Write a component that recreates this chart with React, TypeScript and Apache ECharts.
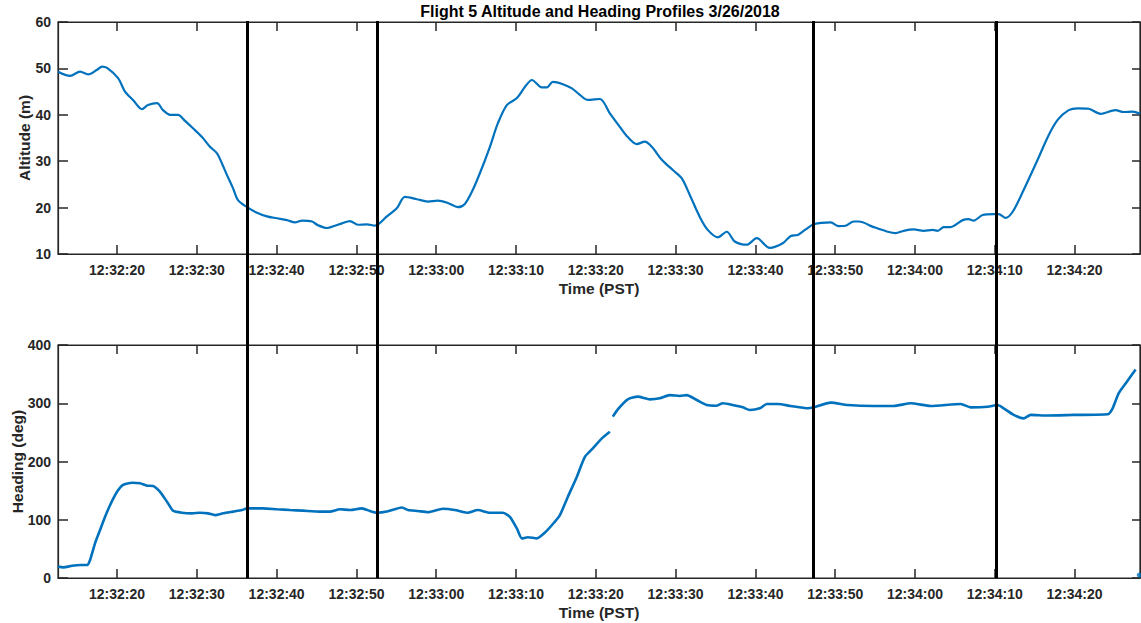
import React, { useEffect, useRef } from "react";
import * as echarts from "echarts";

// time in seconds after 12:32:00 (PST)
const X_MIN = 12.6;
const X_MAX = 148.2;
const TIME_TICKS = [20, 30, 40, 50, 60, 70, 80, 90, 100, 110, 120, 130, 140];
const EVENT_TIMES = [36.3, 52.6, 107.3, 130.2];

const ALT_TICKS_MIN = 10;
const ALT_TICKS_MAX = 60;
const HEAD_TICKS_MIN = 0;
const HEAD_TICKS_MAX = 400;

const altitude: [number, number][] = [
  [12.61, 49.3], [14.11, 48.4], [15.37, 49.3], [16.37, 48.7], [17.5, 49.7], [18.12, 50.4],
  [18.75, 50.1], [20.13, 47.9], [21.0, 45.0], [22.0, 43.2], [23.13, 41.2], [23.88, 42.1],
  [25.01, 42.5], [25.76, 41.0], [26.64, 40.0], [27.64, 40.0], [28.52, 38.7], [29.52, 37.1],
  [30.65, 35.2], [31.65, 33.1], [32.53, 31.7], [33.15, 29.5], [33.78, 27.0], [34.53, 24.2],
  [35.16, 21.6], [36.29, 20.1], [37.54, 18.9], [38.79, 18.1], [40.04, 17.7], [41.3, 17.3],
  [42.3, 16.8], [43.18, 17.2], [44.43, 17.0], [45.18, 16.2], [46.31, 15.6], [47.31, 16.1],
  [48.19, 16.6], [49.19, 17.1], [50.19, 16.3], [51.32, 16.4], [52.32, 16.1], [53.82, 18.1],
  [55.08, 19.9], [56.08, 22.3], [57.58, 21.8], [58.96, 21.3], [60.21, 21.5], [61.46, 21.0],
  [62.72, 20.1], [63.59, 20.8], [64.47, 23.4], [65.47, 27.4], [66.73, 33.1], [67.73, 38.2],
  [68.85, 42.1], [70.11, 43.6], [71.11, 46.0], [71.99, 47.5], [73.24, 45.9], [73.87, 45.9],
  [74.62, 47.1], [75.87, 46.6], [77.0, 45.7], [78.0, 44.3], [79.0, 43.2], [80.51, 43.4],
  [81.76, 40.3], [83.01, 37.4], [84.01, 35.2], [85.14, 33.7], [86.14, 34.2], [87.02, 33.1],
  [88.27, 30.3], [89.65, 28.1], [90.78, 26.3], [91.78, 22.7], [93.03, 18.0], [94.03, 15.2],
  [95.29, 13.6], [96.41, 14.8], [97.41, 12.7], [98.92, 12.0], [100.17, 13.4], [101.8, 11.3],
  [103.43, 12.3], [104.43, 13.9], [105.31, 14.1], [106.31, 15.3], [107.31, 16.4],
  [109.44, 16.8], [110.44, 16.0], [111.32, 16.1], [112.32, 17.0], [112.95, 17.0],
  [114.83, 15.8], [116.58, 14.8], [117.58, 14.5], [118.59, 15.0], [119.84, 15.3],
  [121.09, 15.0], [122.22, 15.2], [122.84, 15.0], [123.6, 15.8], [124.47, 15.8],
  [125.98, 17.3], [126.73, 17.5], [127.35, 17.2], [128.48, 18.4], [129.86, 18.6],
  [130.49, 18.6], [131.36, 17.8], [132.24, 19.1], [133.62, 23.8], [135.37, 30.3],
  [136.75, 35.6], [137.88, 38.9], [139.26, 41.0], [140.38, 41.4], [141.76, 41.3],
  [143.26, 40.2], [145.14, 41.0], [146.14, 40.6], [147.27, 40.7], [148.2, 40.2],
];

const heading: ([number, number] | null)[] = [
  [12.61, 19.5], [13.24, 18.3], [14.36, 21], [15.37, 22.3], [16.24, 22.3], [16.62, 30.9],
  [17.24, 59.5], [17.87, 82.4], [18.5, 105], [19.12, 125], [20.0, 148], [20.75, 160],
  [21.88, 163.6], [22.88, 162.5], [23.76, 158.5], [24.51, 158], [25.39, 148], [26.26, 131],
  [27.01, 115.6], [28.14, 112], [29.4, 111], [30.4, 112], [31.4, 111], [32.28, 108],
  [33.28, 111], [34.53, 114], [35.66, 116.7], [36.29, 119.6], [38.29, 119.6], [40.04, 118],
  [41.67, 116.7], [43.3, 115.6], [45.43, 114], [46.68, 114], [47.93, 118], [49.19, 116.7],
  [50.69, 119.6], [51.69, 115], [52.57, 112], [53.82, 114], [55.7, 121], [56.45, 116.7],
  [57.71, 115], [58.96, 113], [60.84, 119], [62.34, 116.7], [63.85, 112], [65.22, 116.7],
  [66.73, 112], [68.35, 112], [69.23, 105], [70.11, 85], [70.74, 68], [71.49, 70],
  [72.62, 68], [73.62, 78], [74.62, 92.7], [75.5, 108], [76.5, 139.6], [77.63, 174],
  [78.63, 208], [79.63, 222.6], [80.76, 239.8], [81.76, 251], null,
  [82.13, 277], [82.76, 289.6], [84.01, 306.7], [85.27, 311.3], [86.77, 306.7],
  [88.02, 308.5], [89.27, 314], [90.53, 312.4], [91.4, 314], [92.65, 305.6], [93.91, 297],
  [95.16, 295.8], [95.91, 300], [97.16, 297], [98.42, 293], [99.3, 288.4], [100.55, 291.3],
  [101.43, 298.7], [102.81, 298.7], [104.43, 295.3], [106.56, 291.3], [107.31, 293],
  [109.44, 301], [111.57, 297], [114.83, 295.3], [117.33, 295.3], [119.47, 300],
  [121.97, 295.3], [125.73, 298.7], [126.98, 293], [129.11, 294], [130.36, 297],
  [131.11, 291.3], [132.37, 280], [133.62, 274], [134.5, 280], [136.63, 279],
  [139.88, 280], [144.14, 281], [144.77, 291.3], [145.52, 317], [146.4, 334], [147.65, 358],
];

const headingWrap: [number, number][] = [[148.1, 5]];

const FONT = "'Liberation Sans', Arial, Helvetica, sans-serif";
const AX = "#262626";
const BLUE = "#0072BD";

function timeLabel(v: number): string {
  const total = 32 * 60 + Math.round(v);
  const m = Math.floor(total / 60);
  const s = total % 60;
  return `12:${String(m).padStart(2, "0")}:${String(s).padStart(2, "0")}`;
}

const labelStyle = { color: AX, fontSize: 14, fontWeight: "bold" as const, fontFamily: FONT };
const nameStyle = { color: AX, fontSize: 15.5, fontWeight: "bold" as const, fontFamily: FONT };

function bottomX(gridIndex: number) {
  return {
    type: "value", gridIndex, min: X_MIN, max: X_MAX, position: "bottom",
    axisLine: { show: true, onZero: false, lineStyle: { color: AX, width: 1.2 } },
    axisTick: { show: true, inside: true, length: 9, customValues: TIME_TICKS, lineStyle: { color: AX, width: 1.5 } },
    axisLabel: { show: true, customValues: TIME_TICKS, formatter: (v: number) => timeLabel(v), margin: 9, ...labelStyle },
    splitLine: { show: false },
    name: "Time (PST)", nameLocation: "middle", nameGap: 26, nameMoveOverlap: false, nameTextStyle: nameStyle,
  };
}
function topX(gridIndex: number) {
  return {
    type: "value", gridIndex, min: X_MIN, max: X_MAX, position: "top",
    axisLine: { show: true, onZero: false, lineStyle: { color: AX, width: 1.2 } },
    axisTick: { show: true, inside: true, length: 9, customValues: TIME_TICKS, lineStyle: { color: AX, width: 1.5 } },
    axisLabel: { show: false },
    splitLine: { show: false },
  };
}
function leftY(gridIndex: number, min: number, max: number, interval: number, name: string, gap: number) {
  return {
    type: "value", gridIndex, min, max, interval, position: "left",
    axisLine: { show: true, onZero: false, lineStyle: { color: AX, width: 1.2 } },
    axisTick: { show: true, inside: true, length: 10, lineStyle: { color: AX, width: 1.5 } },
    axisLabel: { show: true, margin: 7, ...labelStyle },
    splitLine: { show: false },
    name, nameLocation: "middle", nameGap: gap, nameMoveOverlap: false, nameTextStyle: nameStyle,
  };
}
function rightY(gridIndex: number, min: number, max: number, interval: number) {
  return {
    type: "value", gridIndex, min, max, interval, position: "right",
    axisLine: { show: true, onZero: false, lineStyle: { color: AX, width: 1.2 } },
    axisTick: { show: true, inside: true, length: 8, lineStyle: { color: AX, width: 1.5 } },
    axisLabel: { show: false },
    splitLine: { show: false },
  };
}

export default function App() {
  const ref = useRef<HTMLDivElement>(null);
  useEffect(() => {
    if (!ref.current) return;
    const chart = echarts.init(ref.current, null, { renderer: "svg" });
    const gridBox = { show: true, borderColor: AX, borderWidth: 1.2, backgroundColor: "transparent" };
    chart.setOption({
      animation: false,
      backgroundColor: "#ffffff",
      title: {
        text: "Flight 5 Altitude and Heading Profiles 3/26/2018",
        left: 600, top: 3, padding: 0, textAlign: "center",
        textStyle: { color: "#000", fontSize: 16, fontWeight: "bold", fontFamily: FONT },
      },
      grid: [
        { left: 58, right: 1, top: 22, height: 232, ...gridBox },
        { left: 58, right: 1, top: 345, height: 233, ...gridBox },
        { left: 58, right: 1, top: 21, height: 557 },
      ],
      xAxis: [
        bottomX(0), topX(0), bottomX(1), topX(1),
        { type: "value", gridIndex: 2, min: X_MIN, max: X_MAX, show: false },
      ],
      yAxis: [
        leftY(0, ALT_TICKS_MIN, ALT_TICKS_MAX, 10, "Altitude (m)", 26),
        rightY(0, ALT_TICKS_MIN, ALT_TICKS_MAX, 10),
        leftY(1, HEAD_TICKS_MIN, HEAD_TICKS_MAX, 100, "Heading (deg)", 33),
        rightY(1, HEAD_TICKS_MIN, HEAD_TICKS_MAX, 100),
        { type: "value", gridIndex: 2, min: 0, max: 1, show: false },
      ],
      series: [
        {
          type: "line", xAxisIndex: 0, yAxisIndex: 0, data: altitude, smooth: 0.3,
          showSymbol: false, lineStyle: { color: BLUE, width: 2.2 }, z: 2,
        },
        {
          type: "line", xAxisIndex: 1, yAxisIndex: 1, data: [], showSymbol: false,
        },
        {
          type: "line", xAxisIndex: 2, yAxisIndex: 2, data: heading, smooth: 0.2,
          showSymbol: false, connectNulls: false, lineStyle: { color: BLUE, width: 2.6 }, z: 2,
        },
        {
          type: "line", xAxisIndex: 3, yAxisIndex: 3, data: [], showSymbol: false,
        },
        {
          type: "scatter", xAxisIndex: 2, yAxisIndex: 2, data: headingWrap,
          symbolSize: 5, itemStyle: { color: BLUE }, z: 2,
        },
        {
          type: "line", xAxisIndex: 4, yAxisIndex: 4, data: [[X_MIN, 0]],
          showSymbol: false, lineStyle: { opacity: 0 }, z: 5,
          markLine: {
            silent: true, symbol: "none", label: { show: false },
            lineStyle: { color: "#000", width: 3, type: "solid" },
            data: EVENT_TIMES.map((t) => ({ xAxis: t })),
          },
        },
      ],
    });
    return () => chart.dispose();
  }, []);
  return (
    <div
      ref={ref}
      style={{ position: "absolute", left: 0, top: 0, width: 1141, height: 623, background: "#fff" }}
    />
  );
}
